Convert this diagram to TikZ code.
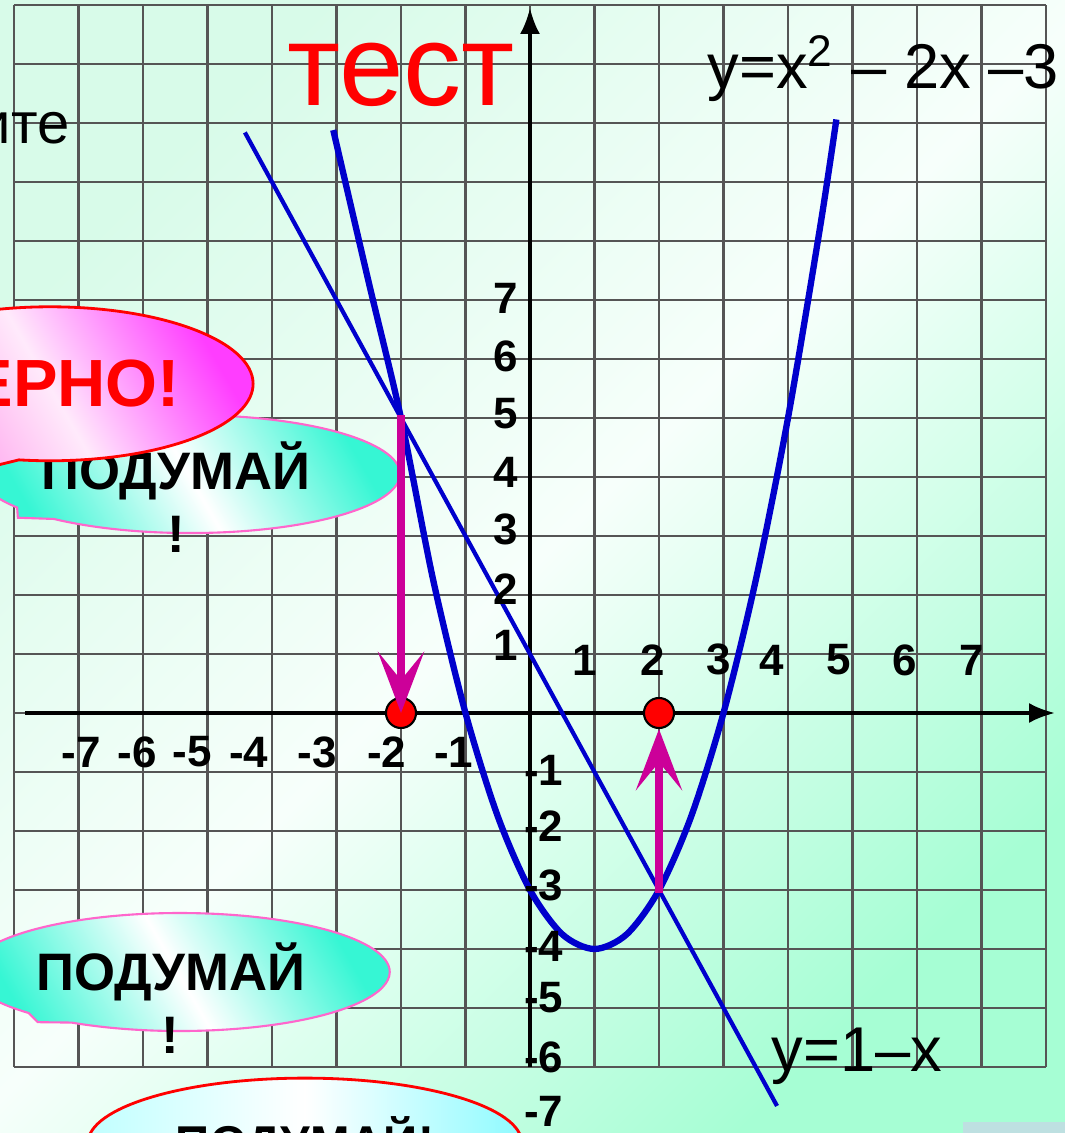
\documentclass[tikz,border=0pt]{standalone}
\usepackage{fontspec}
\setmainfont{Liberation Sans}
\usepackage{xcolor}
\usepackage{tikz}
\usetikzlibrary{arrows.meta, shapes.geometric, shapes.callouts}

\definecolor{bgTop}{HTML}{D8FBE9}
\definecolor{bgMid}{HTML}{F7FFFB}
\definecolor{bgBot}{HTML}{A6FED4}
\definecolor{gridgray}{HTML}{555555}
\definecolor{curveblue}{HTML}{0000CC}
\definecolor{arrowmag}{HTML}{CC0099}
\definecolor{thinkA}{HTML}{36F6D4}
\definecolor{thinkedge}{HTML}{FF66CC}
\definecolor{pinkA}{HTML}{FF8AE8}
\definecolor{pinkMid}{HTML}{FFEAFB}
\definecolor{pinkB}{HTML}{FF3DFF}
\definecolor{hintA}{HTML}{C0FFFF}
\definecolor{hintB}{HTML}{8EFBFF}
\definecolor{cornerblue}{HTML}{BEE0E1}

\begin{document}
\begin{tikzpicture}[
  x=0.645cm, y=0.59cm,
  gridline/.style={draw=gridgray, line width=0.7pt, xstep=0.645cm, ystep=0.59cm},
  axisline/.style={line width=1pt, -{Latex[length=2.6mm, width=2mm]}},
  parab/.style={draw=curveblue, line width=1.8pt},
  straight/.style={draw=curveblue, line width=1.2pt},
  pointer/.style={draw=arrowmag, line width=2.3pt, -{Stealth[length=6.1mm, width=4.6mm, inset=2.8mm]}},
  root/.style={circle, draw=black, line width=0.6pt, fill=red, minimum size=3mm, inner sep=0pt},
  num/.style={font=\fontsize{12.5}{14}\selectfont\bfseries, inner sep=0pt},
  think/.style={ellipse callout, draw=thinkedge, line width=0.6pt,
    top color=thinkA, bottom color=thinkA, middle color=white, shading angle=120,
    minimum width=4.2cm, minimum height=1.18cm, inner sep=0pt},
  thinktext/.style={align=center, font=\fontsize{15}{18}\selectfont\bfseries, inner sep=0pt},
  verno/.style={ellipse callout, draw=red, line width=0.8pt,
    top color=pinkA, bottom color=pinkB, middle color=pinkMid, shading angle=120,
    minimum width=4.06cm, minimum height=1.54cm, inner sep=0pt,
    text=red, font=\fontsize{19}{22}\selectfont\bfseries},
  hint/.style={ellipse, draw=red, line width=0.8pt,
    left color=hintA, right color=hintB, middle color=white,
    minimum width=4.34cm, minimum height=1.3cm, inner sep=0pt,
    font=\fontsize{13.5}{16}\selectfont\bfseries},
  formula/.style={font=\fontsize{18}{21}\selectfont, anchor=base west, inner sep=0pt}
]
  % background
  \shade[top color=bgTop, bottom color=bgBot, middle color=bgMid, shading angle=45]
    (-5.30cm,-4.20cm) rectangle (5.35cm,7.13cm);
  \fill[cornerblue] (4.33cm,-4.20cm) rectangle (5.35cm,-4.09cm);
  \useasboundingbox (-5.30cm,-4.20cm) rectangle (5.35cm,7.13cm);

  % grid and axes
  \draw[gridline] (-8,-6) grid (8,12);
  \draw[axisline] (-7.83,0) -- (8.14,0);
  \draw[axisline] (0,-6) -- (0,11.95);

  % graphs
  \draw[parab] plot[smooth] coordinates {(-3.05,9.88) (-2.5,7.3) (-2,5) (-1.5,2.25) (-1,0)
    (-0.5,-1.75) (0,-3) (0.5,-3.75) (1,-4) (1.5,-3.75) (2,-3) (2.5,-1.75) (3,0)
    (3.5,2.25) (4,5) (4.5,8.25) (4.75,10.06)};
  \draw[straight] (-4.42,9.84) -- (3.83,-6.66);

  % tick labels
  \foreach \lab/\px in {1/0.85, 2/1.91, 3/2.92, 4/3.75, 5/4.79, 6/5.81, 7/6.85}
    \node[num] (xp\lab) at (\px,0.9) {\lab};
  \foreach \lab/\px in {7/-6.96, 6/-6.09, 5/-5.24, 4/-4.36, 3/-3.30, 2/-2.22, 1/-1.18}
    \node[num] (xn\lab) at (\px,-0.66) {-\lab};
  \foreach \lab/\py in {1/1.15, 2/2.1, 3/3.12, 4/4.08, 5/5.07, 6/6.05, 7/7.02}
    \node[num, anchor=east] (yp\lab) at (-0.17,\py) {\lab};
  \foreach \lab/\py in {1/-0.97, 2/-1.92, 3/-2.92, 4/-3.95, 5/-4.83, 6/-5.83, 7/-6.76}
    \node[num, anchor=west] (yn\lab) at (-0.1,\py) {-\lab};

  % texts
  \node[text=red, font=\fontsize{33}{36}\selectfont, anchor=base] (title) at (-2.0,10.29) {тест};
  \node[font=\fontsize{16.5}{19}\selectfont, anchor=base east, inner sep=0pt] (task) at (-7.13,9.66) {ите};
  \node[formula] (parlabel) at (2.74,10.58) {y=x\textsuperscript{2} – 2x –3};
  \node[formula] (linelabel) at (3.74,-6.07) {y=1–x};

  % bubbles
  \node[think, callout absolute pointer={(-7.94,3.31)}] (think1) at (-5.27,4.05) {};
  \node[thinktext] (think1txt) at (-5.49,3.66) {ПОДУМАЙ\\!};
  \node[verno, callout absolute pointer={(-8.45,4.15)}] (right) at (-7.44,5.58) {ВЕРНО!};
  \node[think, callout absolute pointer={(-7.63,-5.24)}] (think2) at (-5.43,-4.39) {};
  \node[thinktext] (think2txt) at (-5.57,-4.83) {ПОДУМАЙ\\!};
  \node[hint] (think3) at (-3.49,-7.29) {ПОДУМАЙ!};

  % roots and arrows
  \coordinate (cutA) at (-2,5.05);
  \coordinate (cutB) at (2,-3.05);
  \node[root] (rootA) at (-2,0) {};
  \node[root] (rootB) at (2,0) {};
  \draw[pointer] (cutA) -- (rootA.center);
  \draw[pointer] (cutB) -- (rootB.south);
\end{tikzpicture}
\end{document}
